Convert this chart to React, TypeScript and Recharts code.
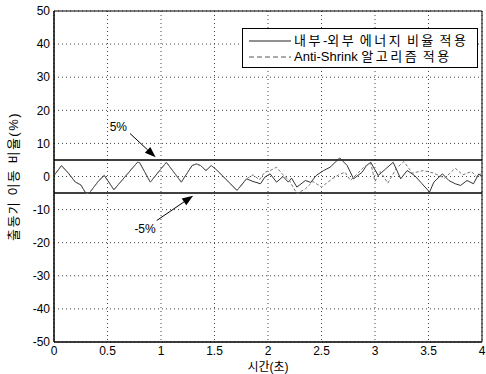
import {
  LineChart,
  Line,
  XAxis,
  YAxis,
  CartesianGrid,
  Legend,
  ReferenceLine,
  ReferenceArea,
} from 'recharts';

// time (s) and ratio (%); both curves coincide until ~1.8 s
const sharedT = [0, 0.07, 0.14, 0.2, 0.25, 0.3, 0.33, 0.42, 0.47, 0.56, 0.78, 0.8, 0.9, 1.0, 1.05, 1.12, 1.19, 1.29, 1.33, 1.37, 1.42, 1.47, 1.52, 1.71, 1.8];
const sharedV = [0.3, 3.3, 0.8, -1.7, -2.5, -5.2, -5, -1.2, 0.3, -4, 4.3, 4.2, -1.7, 2.3, 4.3, 1.3, -1.7, 3.3, 3.8, 3.3, 1.8, 3.3, 2, -4.2, -0.7];

const energyT = [1.86, 1.93, 1.97, 2.02, 2.08, 2.14, 2.19, 2.22, 2.27, 2.35, 2.4, 2.45, 2.52, 2.58, 2.67, 2.74, 2.8, 2.88, 2.92, 2.96, 3.03, 3.1, 3.17, 3.24, 3.3, 3.37, 3.44, 3.51, 3.55, 3.63, 3.69, 3.75, 3.8, 3.86, 3.92, 3.97, 4.0];
const energyV = [-1.5, -2.2, -0.2, 0.8, -1.7, 0, -1.7, -0.5, -3.2, -1.2, -1.8, 0.3, 1.8, 2.8, 5.6, 3.3, -0.7, 1.3, 3.3, 4.3, 0.3, 2.3, 4.3, -0.7, 1.8, 0.3, -2.2, -4.7, -1.7, 0.8, -1.2, -2.2, -2.7, -1.2, -2.2, 0.8, -0.2];

const shrinkT = [1.86, 1.92, 1.97, 2.02, 2.08, 2.14, 2.2, 2.27, 2.35, 2.42, 2.5, 2.6, 2.66, 2.72, 2.77, 2.84, 2.9, 2.96, 3.0, 3.05, 3.12, 3.2, 3.27, 3.35, 3.45, 3.55, 3.65, 3.75, 3.82, 3.9, 3.95, 4.0];
const shrinkV = [0.5, -1.0, 1.3, 1.8, 2.8, 0.5, -1.2, -5.2, -3.7, -1.5, -3.2, -0.7, 0.5, 1.3, -1.2, 1.0, 3.0, 4.0, -1.5, 1.5, -2.0, 2.5, 4.5, 1.0, 1.8, 1.0, -0.5, 2.5, 0.5, 1.5, 0, 1.0];

const xTicks = [0, 0.5, 1, 1.5, 2, 2.5, 3, 3.5, 4];
const yTicks = [-50, -40, -30, -20, -10, 0, 10, 20, 30, 40, 50];

const seriesNames = ['내부-외부 에너지 비율 적용', 'Anti-Shrink 알고리즘 적용'];

const toPoints = (ts: number[], vs: number[]) => ts.map((t, i) => ({ t, v: vs[i] }));
const energyData = toPoints([...sharedT, ...energyT], [...sharedV, ...energyV]);
const shrinkData = toPoints([...sharedT, ...shrinkT], [...sharedV, ...shrinkV]);

const FONT = '"Liberation Sans", Arial, "Noto Sans CJK KR", sans-serif';

const Arrow = (props: any) => {
  const { x1, y1, x2, y2, text, tx, ty } = props;
  const ang = Math.atan2(y2 - y1, x2 - x1);
  const len = 11;
  const w = 4;
  const bx = x2 - len * Math.cos(ang);
  const by = y2 - len * Math.sin(ang);
  const pts = `${x2},${y2} ${bx - w * Math.sin(ang)},${by + w * Math.cos(ang)} ${bx + w * Math.sin(ang)},${by - w * Math.cos(ang)}`;
  return (
    <g>
      <line x1={x1} y1={y1} x2={bx} y2={by} stroke="#000" strokeWidth={1} />
      <polygon points={pts} fill="#000" />
      <text x={x1 + tx} y={y1 + ty} fontSize={12} fontFamily={FONT} textAnchor="end" fill="#000">
        {text}
      </text>
    </g>
  );
};

// hangul in the original legend is set wider than the latin text
const spaced = (s: string) =>
  Array.from(s).map((ch, i) =>
    ch.charCodeAt(0) >= 0xac00 ? (
      <span key={i} style={{ letterSpacing: 2.5 }}>{ch}</span>
    ) : (
      <span key={i}>{ch}</span>
    )
  );

const LegendBox = () => (
  <div
    style={{
      width: 236,
      height: 40,
      boxSizing: 'border-box',
      border: '1px solid #000',
      background: '#fff',
      fontFamily: FONT,
      fontSize: 13,
      color: '#000',
      padding: '4px 0 0 6px',
      lineHeight: '16px',
    }}
  >
    {seriesNames.map((name, i) => (
      <div key={name} style={{ display: 'flex', alignItems: 'center', height: 16 }}>
        <svg width={44} height={10} style={{ marginRight: 1 }}>
          <line x1={0} y1={5} x2={42} y2={5} stroke={i === 0 ? '#222' : '#555'} strokeDasharray={i === 0 ? undefined : '5 3'} />
        </svg>
        <span style={{ whiteSpace: 'nowrap' }}>{spaced(name)}</span>
      </div>
    ))}
  </div>
);

export default function App() {
  return (
    <div style={{ position: 'fixed', left: 0, top: 0, background: '#fff' }}>
      <LineChart width={486} height={374} margin={{ top: 11, right: 4, bottom: 0, left: 0 }}>
        <CartesianGrid stroke="#444" strokeDasharray="1 3" />
        <XAxis
          type="number"
          dataKey="t"
          domain={[0, 4]}
          ticks={xTicks}
          height={32}
          stroke="#000"
          tickLine={false}
          tickSize={2}
          tickMargin={2}
          tick={{ fill: '#000', fontSize: 12, fontFamily: FONT }}
          label={{ value: '시간(초)', position: 'insideBottom', offset: 3, style: { fontSize: 12, fontFamily: FONT, fill: '#000' } }}
        />
        <YAxis
          type="number"
          domain={[-50, 50]}
          ticks={yTicks}
          width={54}
          stroke="#000"
          tickLine={false}
          tickSize={2}
          tickMargin={2}
          tick={{ fill: '#000', fontSize: 12, fontFamily: FONT }}
          label={{
            value: '출동기 이동 비율(%)',
            angle: -90,
            position: 'insideLeft',
            offset: 13,
            style: { textAnchor: 'middle', fontSize: 13, letterSpacing: 1.5, fontFamily: FONT, fill: '#000' },
          }}
        />
        <ReferenceArea x1={0} x2={4} y1={-50} y2={50} fill="none" stroke="#000" strokeWidth={1} />
        <ReferenceLine y={5} stroke="#000" strokeWidth={1.5} />
        <ReferenceLine y={-5} stroke="#000" strokeWidth={1.5} />
        <Line
          data={energyData}
          dataKey="v"
          name={seriesNames[0]}
          stroke="#333"
          strokeWidth={1}
          dot={false}
          isAnimationActive={false}
        />
        <Line
          data={shrinkData}
          dataKey="v"
          name={seriesNames[1]}
          stroke="#777"
          strokeWidth={1}
          strokeDasharray="3 2"
          dot={false}
          isAnimationActive={false}
        />
        <ReferenceLine
          segment={[{ x: 0.71, y: 13 }, { x: 0.95, y: 5.8 }]}
          shape={(p: any) => <Arrow {...p} text="5%" tx={-3} ty={-2} />}
        />
        <ReferenceLine
          segment={[{ x: 0.96, y: -13.3 }, { x: 1.3, y: -5.8 }]}
          shape={(p: any) => <Arrow {...p} text="-5%" tx={-1} ty={12} />}
        />
        <Legend
          layout="horizontal"
          verticalAlign="middle"
          align="center"
          content={<LegendBox />}
          wrapperStyle={{ top: 28, left: 242, width: 236, height: 40 }}
        />
      </LineChart>
    </div>
  );
}
